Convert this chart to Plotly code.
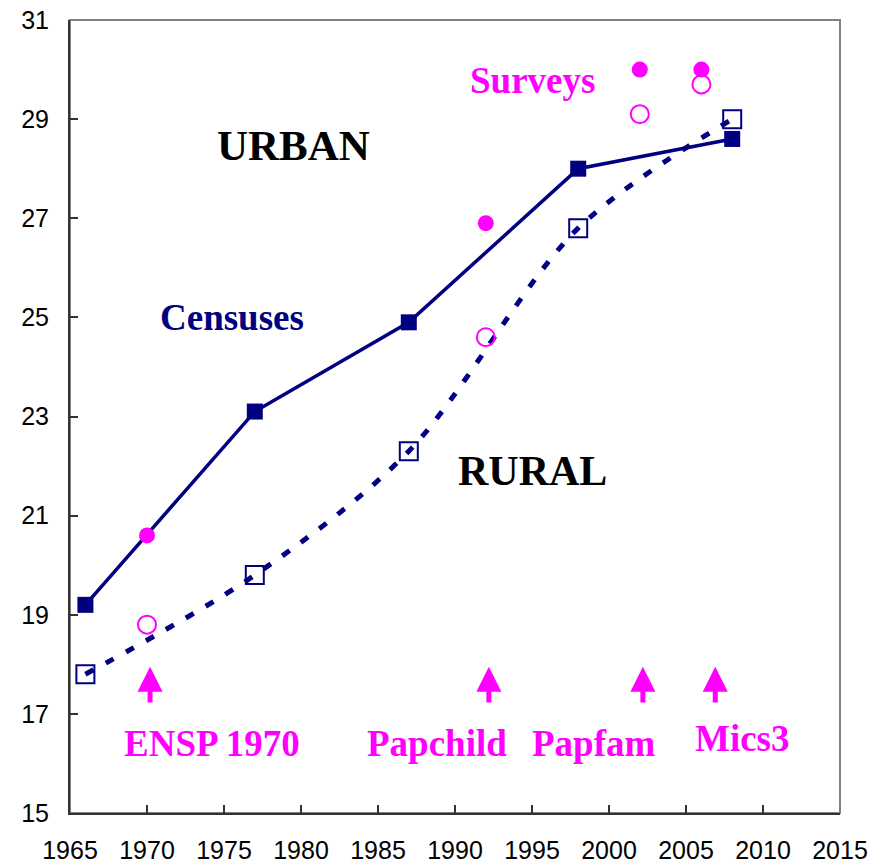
import plotly.graph_objects as go

NAVY = '#000080'
MAGENTA = '#FF00FF'
SERIF = 'Liberation Serif, Times New Roman, serif'
SANS = 'Liberation Sans, Arial, sans-serif'

# census years and values
census_years = [1966, 1977, 1987, 1998, 2008]
urban_census = [19.2, 23.1, 24.9, 28.0, 28.6]
rural_census = [17.8, 19.8, 22.3, 26.8, 29.0]

# survey years and values
survey_years = [1970, 1992, 2002, 2006]
urban_survey = [20.6, 26.9, 30.0, 30.0]
rural_survey = [18.8, 24.6, 29.1, 29.7]

# survey arrows and labels
arrow_years = [1970.2, 1992.2, 2002.2, 2006.9]
survey_names = ['ENSP 1970', 'Papchild', 'Papfam', 'Mics3']
name_x = [1974.2, 1988.8, 1999.0, 2008.7]
name_y = [16.4, 16.4, 16.4, 16.5]

fig = go.Figure()

fig.add_trace(go.Scatter(
    x=census_years, y=rural_census, mode='lines+markers',
    line=dict(color=NAVY, width=5, dash='9px,14px', shape='spline', smoothing=0.9),
    marker=dict(symbol='square-open', size=18, color=NAVY, line=dict(width=2, color=NAVY)),
    showlegend=False,
))
fig.add_trace(go.Scatter(
    x=census_years, y=urban_census, mode='lines+markers',
    line=dict(color=NAVY, width=3.5),
    marker=dict(symbol='square', size=16, color=NAVY),
    showlegend=False,
))
fig.add_trace(go.Scatter(
    x=survey_years, y=urban_survey, mode='markers',
    marker=dict(symbol='circle', size=16, color=MAGENTA),
    showlegend=False,
))
fig.add_trace(go.Scatter(
    x=survey_years, y=rural_survey, mode='markers',
    marker=dict(symbol='circle-open', size=18, color=MAGENTA, line=dict(width=2, color=MAGENTA)),
    showlegend=False,
))

# arrows pointing to each survey year
for ax in arrow_years:
    fig.add_annotation(
        x=ax, y=17.95, ax=ax, ay=17.2, xref='x', yref='y', axref='x', ayref='y',
        text='', showarrow=True, arrowhead=2, arrowsize=1.0, arrowwidth=5,
        arrowcolor=MAGENTA,
    )

for nm, nx, ny in zip(survey_names, name_x, name_y):
    fig.add_annotation(x=nx, y=ny, text='<b>%s</b>' % nm, showarrow=False,
                       font=dict(family=SERIF, size=37, color=MAGENTA))

fig.add_annotation(x=1979.5, y=28.47, text='<b>URBAN</b>', showarrow=False,
                   font=dict(family=SERIF, size=43, color='black'))
fig.add_annotation(x=1995.0, y=21.9, text='<b>RURAL</b>', showarrow=False,
                   font=dict(family=SERIF, size=42, color='black'))
fig.add_annotation(x=1975.5, y=25.0, text='<b>Censuses</b>', showarrow=False,
                   font=dict(family=SERIF, size=37, color=NAVY))
fig.add_annotation(x=1995.0, y=29.78, text='<b>Surveys</b>', showarrow=False,
                   font=dict(family=SERIF, size=37, color=MAGENTA))

# grey frame on top and right
fig.add_shape(type='rect', xref='paper', yref='paper', x0=0, y0=0, x1=1, y1=1,
              line=dict(color='#808080', width=2), layer='below')

fig.update_layout(
    autosize=True,
    margin=dict(l=70, r=42, t=20, b=53),
    paper_bgcolor='white', plot_bgcolor='white',
    xaxis=dict(range=[1965, 2015], tickvals=list(range(1965, 2016, 5)),
               showgrid=False, zeroline=False, showline=True, linecolor='#333333', linewidth=2,
               ticks='inside', ticklen=8, tickcolor='#333333', tickwidth=1.5,
               ticklabelstandoff=14, automargin=False,
               tickfont=dict(family=SANS, size=25, color='black')),
    yaxis=dict(range=[15, 31], tickvals=list(range(15, 32, 2)),
               showgrid=False, zeroline=False, showline=True, linecolor='#333333', linewidth=2,
               ticks='inside', ticklen=8, tickcolor='#333333', tickwidth=1.5,
               ticklabelstandoff=14, automargin=False,
               tickfont=dict(family=SANS, size=25, color='black')),
)

# the figure fills the window; the body margin is dropped so nothing scrolls
fig.write_html("out.html", default_width='100vw', default_height='100vh',
               config=dict(displayModeBar=False),
               post_script="document.body.style.margin='0';")
